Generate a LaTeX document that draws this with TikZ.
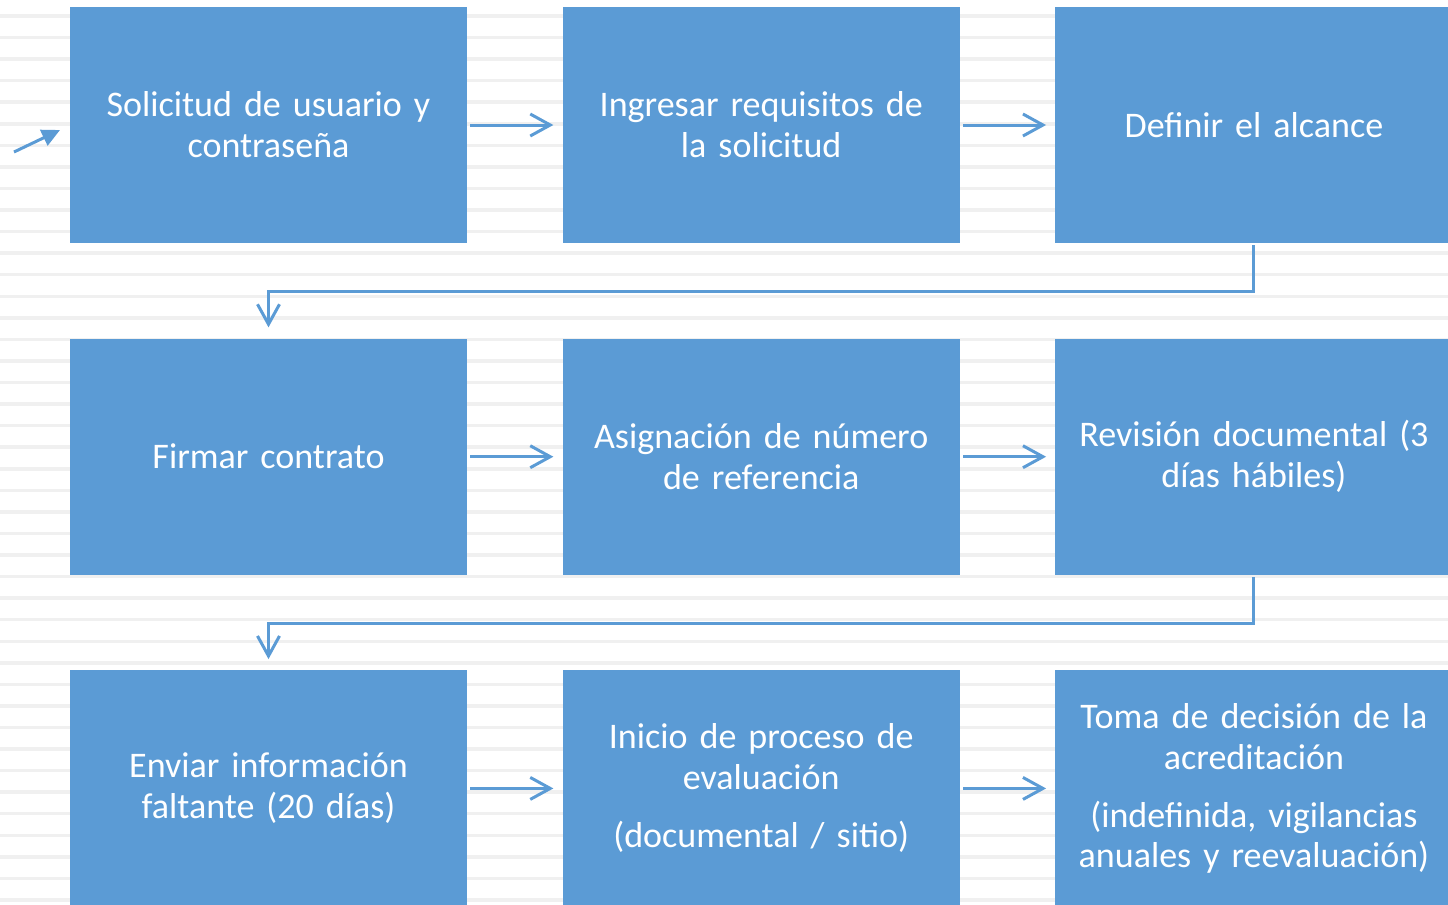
\documentclass[tikz,border=0pt]{standalone}
\usepackage{fontspec}
\setmainfont{Carlito}
\usetikzlibrary{positioning,arrows.meta,chains,scopes}
\definecolor{boxblue}{HTML}{5B9BD5}
\definecolor{stripe}{HTML}{F0F0F0}

\begin{document}
\begin{tikzpicture}[x=0.2mm, y=-0.2mm, node distance=19mm and 19mm,
>={Straight Barb[length=4mm,width=4.4mm]}, every join/.style={flow},
box/.style={fill=boxblue, text=white, align=center, text width=79mm, minimum width=79.4mm, minimum height=47.2mm, inner sep=0pt, font=\fontsize{20.5}{23.3}\selectfont},
flow/.style={->, draw=boxblue, line width=0.6mm, shorten <=0.6mm, shorten >=1.8mm},
down/.style={flow, shorten <=0.4mm, shorten >=2.2mm}
]
\useasboundingbox (0,0) rectangle (1448,904);

% striped background
\foreach \i in {0,...,41}
  \draw[stripe, line width=0.7mm] (0,16+21.56*\i) -- (1448,16+21.56*\i);

\node (solicitud) [box] at (268.5,125) {Solicitud de usuario y\\ contraseña};
\node (requisitos) [box, right=of solicitud] {Ingresar requisitos de\\ la solicitud};
\node (alcance) [box, right=of requisitos] {Definir el alcance};
\node (contrato) [box, below=of solicitud] {Firmar contrato};
\node (referencia) [box, right=of contrato] {Asignación de número\\ de referencia};
\node (revision) [box, right=of referencia] {Revisión documental (3\\ días hábiles)};
\node (faltante) [box, below=of contrato] {Enviar información\\ faltante (20 días)};
\node (evaluacion) [box, right=of faltante] {Inicio de proceso de\\ evaluación\\[3.4mm] (documental / sitio)};
\node (decision) [box, right=of evaluacion] {Toma de decisión de la\\ acreditación\\[3.4mm] (indefinida, vigilancias\\ anuales y reevaluación)};

\coordinate (start) at (14,152);
\coordinate (entry) at (60,130);
\draw[draw=boxblue, line width=0.6mm, -{Triangle[length=3.6mm,width=3.4mm]}] (start) -- (entry);

{[start chain]
\chainin (solicitud);
\chainin (requisitos) [join];
\chainin (alcance) [join];
}
{[start chain]
\chainin (contrato);
\chainin (referencia) [join];
\chainin (revision) [join];
}
{[start chain]
\chainin (faltante);
\chainin (evaluacion) [join];
\chainin (decision) [join];
}

\draw[down] (alcance.south) -- ++(0,-9.6mm) -| (contrato.north);
\draw[down] (revision.south) -- ++(0,-9.6mm) -| (faltante.north);

\end{tikzpicture}
\end{document}
